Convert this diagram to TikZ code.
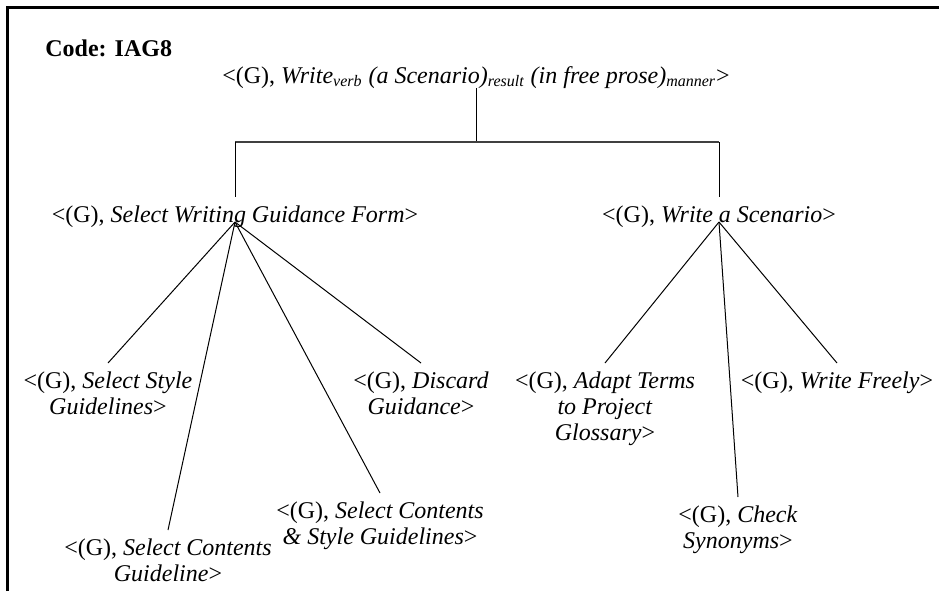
\documentclass[tikz,border=0pt]{standalone}
\usepackage{fontspec}
\setmainfont{Liberation Serif}
\tikzset{
    goal/.style={font=\fontsize{12}{13}\selectfont, align=center, inner xsep=0pt, inner ysep=4pt},
    link/.style={line width=0.5pt},
    hbar/.style={line width=0.8pt, black!75},
}
\begin{document}
\begin{tikzpicture}[x=0.5pt, y=-0.5pt]
    \useasboundingbox (0,0) rectangle (939,591);
    % 外框
    \draw[line width=1.5pt] (7,591) -- (7,7) -- (939,7);

    % 標題
    \node[goal, anchor=base west, font=\fontsize{12}{13}\selectfont\bfseries] (code) at (45,56) {Code: IAG8};

    % 上層目標
    \node[goal, anchor=base] (root) at (476,83) {<(G), \textit{Write\textsubscript{verb} (a Scenario)\textsubscript{result} (in free prose)\textsubscript{manner}}>};
    \node[goal, anchor=base] (swgf) at (235,222) {<(G), \textit{Select Writing Guidance Form}>};
    \node[goal, anchor=base] (was) at (719,222) {<(G), \textit{Write a Scenario}>};

    % 下層目標
    \node[goal, anchor=north] (ssg) at (108,363) {<(G), \textit{Select Style}\\\textit{Guidelines}>};
    \node[goal, anchor=north] (scg) at (168,530) {<(G), \textit{Select Contents}\\\textit{Guideline}>};
    \node[goal, anchor=north] (scsg) at (380,493) {<(G), \textit{Select Contents}\\\textit{\& Style Guidelines}>};
    \node[goal, anchor=north] (dg) at (421,363) {<(G), \textit{Discard}\\\textit{Guidance}>};
    \node[goal, anchor=north] (atpg) at (605,363) {<(G), \textit{Adapt Terms}\\\textit{to Project}\\\textit{Glossary}>};
    \node[goal, anchor=north] (cs) at (738,497) {<(G), \textit{Check}\\\textit{Synonyms}>};
    \node[goal, anchor=north] (wf) at (837,363) {<(G), \textit{Write Freely}>};

    % 樹狀連線
    \coordinate (bar) at (476,142);
    \draw[link] ([yshift=-2.5pt]root.base) -- (bar);
    \draw[hbar] (swgf.north |- bar) -- (was.north |- bar);
    \draw[link] (swgf.north |- bar) -- (swgf.north);
    \draw[link] (was.north |- bar) -- (was.north);

    % 畫出邊
    \draw[link] (swgf.base) -- (ssg.north);
    \draw[link] (swgf.base) -- (scg.north);
    \draw[link] (swgf.base) -- (scsg.north);
    \draw[link] (swgf.base) -- (dg.north);
    \draw[link] (was.base) -- (atpg.north);
    \draw[link] (was.base) -- (cs.north);
    \draw[link] (was.base) -- (wf.north);
\end{tikzpicture}
\end{document}
